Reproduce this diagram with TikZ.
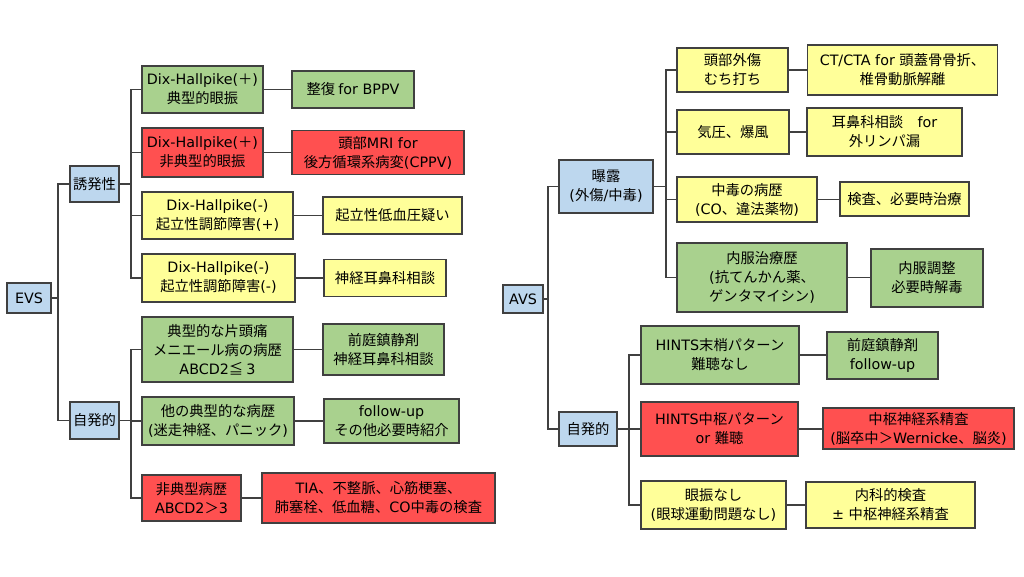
\documentclass[tikz,border=0pt]{standalone}
\usepackage{fontspec}
\setmainfont{DejaVu Sans}
\newfontfamily\latinf{DejaVu Sans}
\newfontfamily\jpf{Noto Sans CJK JP}
% switch to the Japanese font for CJK characters
\XeTeXinterchartokenstate=1
\newXeTeXintercharclass\JPclass
\newcount\jpc
\def\jprange#1#2{\jpc=#1\relax
  \loop\XeTeXcharclass\jpc=\JPclass\relax
  \ifnum\jpc<#2\advance\jpc by 1\repeat}
\jprange{"3000}{"30FF}
\jprange{"4E00}{"9FFF}
\jprange{"FF00}{"FFEF}
\XeTeXcharclass"2266=\JPclass
\XeTeXinterchartoks 0 \JPclass = {\jpf}
\XeTeXinterchartoks 4095 \JPclass = {\jpf}
\XeTeXinterchartoks \JPclass 0 = {\latinf}
\XeTeXinterchartoks 4095 0 = {\latinf}
\definecolor{edgec}{RGB}{64,64,64}
\definecolor{bluec}{RGB}{189,215,238}
\definecolor{greenc}{RGB}{169,209,142}
\definecolor{redc}{RGB}{255,80,80}
\definecolor{yellowc}{RGB}{255,255,153}
\begin{document}
\begin{tikzpicture}[x=1pt,y=-1pt,
  box/.style={draw=edgec, line width=1.1pt, inner sep=0pt, align=center, font=\fontsize{14.3}{19}\selectfont},
  bbox/.style={box, fill=bluec},
  gbox/.style={box, fill=greenc},
  rbox/.style={box, fill=redc},
  ybox/.style={box, fill=yellowc},
  sz/.style 2 args={minimum width=#1pt, minimum height=#2pt},
  con/.style={draw=edgec, line width=1.1pt}]
\useasboundingbox[fill=white] (0,0) rectangle (1024,576);

% ---------- left tree ----------
\node[bbox, sz={44}{30}] (EVS) at (29,298) {EVS};
\node[bbox, sz={49}{36}] (yuu) at (94.5,184) {誘発性};
\node[bbox, sz={49}{37}] (jiL) at (94.5,420.5) {自発的};

\node[gbox, sz={121}{47}] (L1) at (202.5,89.5) {Dix-Hallpike(＋)\\典型的眼振};
\node[rbox, sz={121}{49}] (L2) at (202.5,152.5) {Dix-Hallpike(＋)\\非典型的眼振};
\node[ybox, sz={151}{47}] (L3) at (217.5,215.5) {Dix-Hallpike(-)\\起立性調節障害(+)};
\node[ybox, sz={153}{48}] (L4) at (218.5,278) {Dix-Hallpike(-)\\起立性調節障害(-)};
\node[gbox, sz={151}{65}] (L5) at (217.5,349.5) {典型的な片頭痛\\メニエール病の病歴\\ABCD2≦ 3};
\node[gbox, sz={152}{48}] (L6) at (218,421) {他の典型的な病歴\\(迷走神経、パニック)};
\node[rbox, sz={99}{46}] (L7) at (191.5,498) {非典型病歴\\ABCD2＞3};

\node[gbox, sz={122}{37}] (R1) at (353,89.5) {整復 for BPPV};
\node[rbox, sz={172}{44}] (R2) at (378,152.5) {頭部MRI for\\後方循環系病変(CPPV)};
\node[ybox, sz={139}{37}] (R3) at (392.5,215.5) {起立性低血圧疑い};
\node[ybox, sz={122}{37}] (R4) at (385,278) {神経耳鼻科相談};
\node[gbox, sz={121}{51}] (R5) at (383.5,349.5) {前庭鎮静剤\\神経耳鼻科相談};
\node[gbox, sz={135}{44}] (R6) at (391.5,421) {follow-up\\その他必要時紹介};
\node[rbox, sz={233}{50}] (R7) at (378.5,498) {TIA、不整脈、心筋梗塞、\\肺塞栓、低血糖、CO中毒の検査};

\coordinate (tL) at (58,0);
\coordinate (bL) at (131,0);
\draw[con] (EVS.east) -- (EVS.east -| tL) |- (yuu.west);
\draw[con] (EVS.east -| tL) |- (jiL.west);
\foreach \c in {L1,L2,L3,L4} \draw[con] (yuu.east) -- (yuu.east -| bL) |- (\c.west);
\foreach \c in {L5,L6,L7} \draw[con] (jiL.east) -- (jiL.east -| bL) |- (\c.west);
\foreach \a/\b in {L1/R1,L2/R2,L3/R3,L4/R4,L5/R5,L6/R6,L7/R7}
  \draw[con] (\a.east) -- (\a.east -| \b.west);

% ---------- right tree ----------
\node[bbox, sz={40}{28}] (AVS) at (523,299) {AVS};
\node[bbox, sz={94}{53}] (bak) at (606,186.5) {曝露\\(外傷/中毒)};
\node[bbox, sz={58}{34}] (jiR) at (588,429) {自発的};

\node[ybox, sz={111}{44}] (A1) at (732.5,70) {頭部外傷\\むち打ち};
\node[ybox, sz={112}{44}] (A2) at (733,132) {気圧、爆風};
\node[ybox, sz={140}{45}] (A3) at (747,199.5) {中毒の病歴\\(CO、違法薬物)};
\node[gbox, sz={170}{69}] (A4) at (762,277.5) {内服治療歴\\(抗てんかん薬、\\ゲンタマイシン)};

\node[ybox, sz={190}{50}] (B1) at (902.5,70) {CT/CTA for 頭蓋骨骨折、\\椎骨動脈解離};
\node[ybox, sz={155}{48}] (B2) at (884.5,132) {耳鼻科相談　for\\外リンパ漏};
\node[ybox, sz={129}{34}] (B3) at (904.5,199) {検査、必要時治療};
\node[gbox, sz={112}{58}] (B4) at (927,278) {内服調整\\必要時解毒};

\node[gbox, sz={158}{58}] (S1) at (720,355) {HINTS末梢パターン\\難聴なし};
\node[rbox, sz={157}{54}] (S2) at (719.5,429) {HINTS中枢パターン\\or 難聴};
\node[ybox, sz={145}{48}] (S3) at (713.5,505) {眼振なし\\(眼球運動問題なし)};

\node[gbox, sz={111}{47}] (T1) at (882.5,355.5) {前庭鎮静剤\\follow-up};
\node[rbox, sz={191}{41}] (T2) at (918.5,428.5) {中枢神経系精査\\(脳卒中＞Wernicke、脳炎)};
\node[ybox, sz={169}{46}] (T3) at (890.5,505) {内科的検査\\± 中枢神経系精査};

\coordinate (tR) at (548,0);
\coordinate (bA) at (666,0);
\coordinate (bS) at (629,0);
\draw[con] (AVS.east) -- (AVS.east -| tR) |- (bak.west);
\draw[con] (AVS.east -| tR) |- (jiR.west);
\foreach \c in {A1,A2,A3,A4} \draw[con] (bak.east) -- (bak.east -| bA) |- (\c.west);
\foreach \c in {S1,S2,S3} \draw[con] (jiR.east) -- (jiR.east -| bS) |- (\c.west);
\foreach \a/\b in {A1/B1,A2/B2,A3/B3,A4/B4,S1/T1,S2/T2,S3/T3}
  \draw[con] (\a.east) -- (\a.east -| \b.west);
\end{tikzpicture}
\end{document}
